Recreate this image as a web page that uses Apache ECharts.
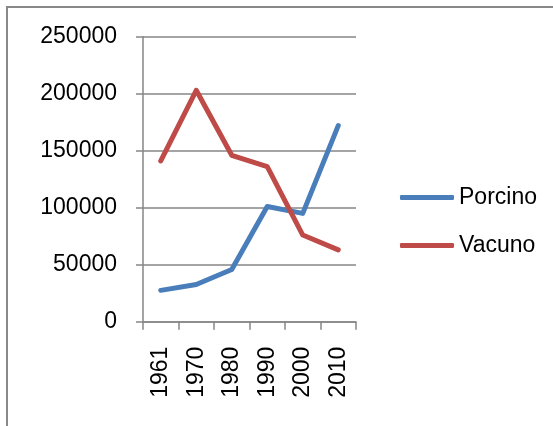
<!DOCTYPE html>
<html>
<head>
<meta charset="utf-8">
<script src="https://cdn.jsdelivr.net/npm/echarts@6/dist/echarts.min.js"></script>
<style>html,body{margin:0;padding:0;background:#fff}#c{width:553px;height:426px}</style>
</head>
<body>
<div id="c"></div>
<script>
var categories = ['1961', '1970', '1980', '1990', '2000', '2010'];
var porcino = [27500, 32600, 45800, 101000, 95000, 172000];
var vacuno = [141000, 203000, 146000, 136000, 76000, 63000];
var seriesNames = ['Porcino', 'Vacuno'];
var yMax = 250000, yStep = 50000;

var FONT = 'Liberation Sans';
var AX = '#868686';
var chart = echarts.init(document.getElementById('c'), null, {renderer: 'canvas'});
chart.setOption({
  animation: false,
  backgroundColor: '#fff',
  graphic: [{
    type: 'rect', shape: {x: 7, y: 7, width: 600, height: 500},
    style: {fill: 'none', stroke: '#898989', lineWidth: 2}, z: 100
  }],
  grid: {left: 143, top: 36.7, width: 213, height: 285, containLabel: false},
  legend: {
    orient: 'vertical', left: 395, top: 181, itemWidth: 54, itemHeight: 5,
    itemGap: 25, icon: 'roundRect',
    textStyle: {fontFamily: FONT, fontSize: 23, color: '#000', padding: [0, 0, 0, 0], lineHeight: 23},
    data: seriesNames
  },
  xAxis: {
    type: 'category', data: categories, boundaryGap: true,
    axisLine: {lineStyle: {color: AX, width: 1.5}},
    axisTick: {show: true, length: 8, lineStyle: {color: AX, width: 1.5}, alignWithLabel: false},
    axisLabel: {rotate: 90, margin: 25, fontFamily: FONT, fontSize: 23, color: '#000', interval: 0}
  },
  yAxis: {
    type: 'value', min: 0, max: yMax, interval: yStep,
    axisLine: {show: true, lineStyle: {color: AX, width: 1.5}},
    axisTick: {show: true, length: 7, lineStyle: {color: AX, width: 1.5}},
    splitLine: {show: true, lineStyle: {color: AX, width: 1.5}},
    axisLabel: {margin: 26, fontFamily: FONT, fontSize: 23, color: '#000',
      formatter: function (v) { return String(v); }}
  },
  series: [
    {name: seriesNames[0], type: 'line', data: porcino, symbol: 'none', color: '#4A7EBB',
     lineStyle: {width: 5, color: '#4A7EBB', cap: 'round', join: 'round'}},
    {name: seriesNames[1], type: 'line', data: vacuno, symbol: 'none', color: '#BE4B48',
     lineStyle: {width: 5, color: '#BE4B48', cap: 'round', join: 'round'}}
  ]
});
</script>
</body>
</html>
